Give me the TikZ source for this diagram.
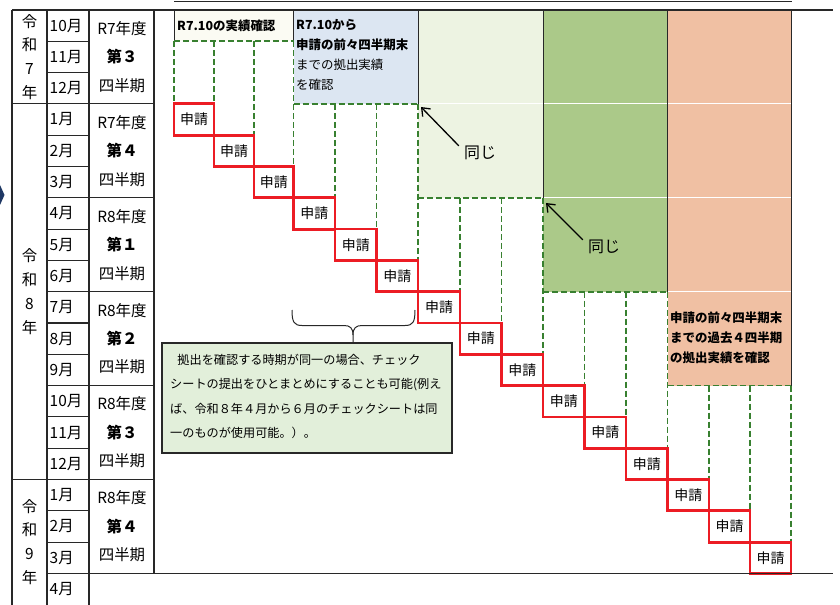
\documentclass[tikz,border=0pt]{standalone}
\usepackage{fontspec}
\newfontfamily\jp{Noto Sans CJK JP}
\usetikzlibrary{arrows.meta}
\definecolor{redbox}{RGB}{236,28,36}
\definecolor{dgreen}{RGB}{56,128,48}
\definecolor{lblue}{RGB}{220,230,242}
\definecolor{lgreen}{RGB}{237,243,226}
\definecolor{mgreen}{RGB}{171,201,137}
\definecolor{salmon}{RGB}{240,192,163}
\definecolor{cream}{RGB}{251,251,243}
\definecolor{callfill}{RGB}{226,239,218}
\definecolor{tline}{RGB}{40,40,40}
\definecolor{navy}{RGB}{31,56,100}
\begin{document}
\begin{tikzpicture}[x=1bp,y=-1bp,
  tl/.style={draw=tline,line width=1.1bp},
  gdash/.style={draw=dgreen,line width=1.6bp,dash pattern=on 6bp off 3bp},
  wline/.style={draw=white,line width=1bp},
  shin/.style={draw=redbox,line width=2.8bp,inner sep=0pt,font=\jp\fontsize{14}{16}\selectfont},
  mon/.style={anchor=west,inner sep=0pt,font=\jp\fontsize{15.5}{18}\selectfont},
  qtr/.style={inner sep=0pt,font=\jp\fontsize{15.5}{18}\selectfont},
  qtrb/.style={inner sep=0pt,font=\jp\bfseries\fontsize{15.5}{18}\selectfont},
  yr/.style={inner sep=0pt,align=center,font=\jp\fontsize{15.5}{24}\selectfont},
  hdr/.style={inner sep=0pt,align=left,anchor=north west,font=\jp\bfseries\fontsize{12.5}{20}\selectfont},
  dou/.style={inner sep=2bp,font=\jp\fontsize{16}{18}\selectfont},
  arr/.style={draw=black,line width=1.3bp,-{Straight Barb[length=7bp,width=11bp]}},
]
\useasboundingbox (0,0) rectangle (840,605);

% header fills
\fill[cream]  (174,10) rectangle (293.5,41.3);
\fill[lblue]  (293.5,10) rectangle (418,103.9);
\fill[lgreen] (418,10) rectangle (543,197.8);
\fill[mgreen] (543,10) rectangle (667.5,291.7);
\fill[salmon] (667.5,10) rectangle (791,385.6);

% light quarter lines across coloured areas
\draw[wline] (418,103.9) -- (543,103.9);
\draw[wline] (543,103.9) -- (667.5,103.9);
\draw[wline] (543,197.8) -- (667.5,197.8);
\draw[wline] (667.5,103.9) -- (791,103.9);
\draw[wline] (667.5,197.8) -- (791,197.8);
\draw[wline] (667.5,291.7) -- (791,291.7);

% solid header edges
\draw[tl,line width=0.9bp] (174,10) -- (174,41.3);
\draw[tl,line width=0.9bp] (293.5,10) -- (293.5,41.3);
\draw[tl,line width=0.9bp] (418,10) -- (418,103.9);
\draw[tl,line width=0.9bp] (543,10) -- (543,197.8);
\draw[tl,line width=0.9bp] (667.5,10) -- (667.5,291.7);
\draw[tl,line width=0.9bp] (791,10) -- (791,385.6);

% dashed header bottoms
\draw[gdash] (174,41.3) -- (293.5,41.3);
\draw[gdash] (293.5,103.9) -- (418,103.9);
\draw[gdash] (418,197.8) -- (543,197.8);
\draw[gdash] (543,291.7) -- (667.5,291.7);
\draw[gdash] (667.5,385.6) -- (791,385.6);

% dashed verticals
\foreach \x/\t/\b in {174/41.3/103.9, 214/41.3/103.9, 254/41.3/135.2, 293.5/41.3/166.5,
  335/103.9/197.8, 376.5/103.9/229.1, 418/103.9/260.4,
  460/197.8/291.7, 501.5/197.8/323, 543/197.8/354.3,
  584.5/291.7/385.6, 626/291.7/416.9, 667.5/291.7/448.2,
  709/385.6/479.5, 750/385.6/510.8, 791/385.6/542.1}
  \draw[gdash] (\x,\t) -- (\x,\b);

% application boxes
\def\xs{{174,214,254,293.5,335,376.5,418,460,501.5,543,584.5,626,667.5,709,750,791}}
\foreach \k in {0,...,14}{
  \pgfmathsetmacro\xa{\xs[\k]}
  \pgfmathsetmacro\xb{\xs[\k+1]}
  \pgfmathsetmacro\w{\xb-\xa}
  \pgfmathsetmacro\yc{10+31.3*(\k+3)+15.65}
  \pgfmathsetmacro\xc{(\xa+\xb)/2}
  \node[shin,minimum width=\w bp,minimum height=31.3bp] (s\k) at (\xc,\yc) {申請};
}

% table lines
\draw[tl] (12,10) -- (833,10);
\draw[tl,line width=1.8bp] (174,1.5) -- (792,1.5);
\draw[tl] (12,10) -- (12,605);
\draw[tl] (47,10) -- (47,605);
\draw[tl] (89,10) -- (89,605);
\draw[tl] (154,10) -- (154,573.4);
\foreach \r in {1,...,18} \draw[tl] (47,{10+31.3*\r}) -- (89,{10+31.3*\r});
\foreach \r in {3,6,9,12,15} \draw[tl] (89,{10+31.3*\r}) -- (154,{10+31.3*\r});
\draw[tl] (12,103.9) -- (47,103.9);
\draw[tl] (12,479.5) -- (47,479.5);
\draw[tl] (89,573.4) -- (833,573.4);

% year labels
\node[yr] (y7) at (29.5,57) {令\\和\\7\\年};
\node[yr] (y8) at (29.5,291.7) {令\\和\\8\\年};
\node[yr] (y9) at (29.5,542) {令\\和\\9\\年};

% month labels
\foreach \m [count=\r from 0] in {10,11,12,1,2,3,4,5,6,7,8,9,10,11,12,1,2,3,4}
  \node[mon] (m\r) at (49.5,{25.65+31.3*\r}) {\m 月};

% quarter labels
\foreach \q/\fy/\qn in {0/R7/３,1/R7/４,2/R8/１,3/R8/２,4/R8/３,5/R8/４}{
  \pgfmathsetmacro\qc{56.95+93.9*\q}
  \node[qtr] (qa\q) at (122,{\qc-28.5}) {\fy 年度};
  \node[qtrb] (qb\q) at (122,\qc) {第\qn};
  \node[qtr] (qc\q) at (122,{\qc+28.5}) {四半期};
}

% header texts
\node[hdr,anchor=west] (h0) at (177,26) {R7.10の実績確認};
\node[hdr] (h1) at (296,19.2) {R7.10から\\申請の前々四半期末\\{\mdseries までの拠出実績}\\{\mdseries を確認}};
\node[hdr] (h4) at (670,312) {申請の前々四半期末\\までの過去４四半期\\の拠出実績を確認};

% same-as labels
\node[dou] (d1) at (480,153) {同じ};
\coordinate (d1t) at (421,107);
\draw[arr] ([shift={(-3,2)}]d1.north west) -- (d1t);
\node[dou] (d2) at (604,247) {同じ};
\coordinate (d2t) at (546,203);
\draw[arr] ([shift={(-3,2)}]d2.north west) -- (d2t);

% callout
\node[draw=tline,line width=1.2bp,fill=callfill,minimum width=290bp,minimum height=110bp,inner sep=0pt] (call) at (307,398) {};
\node[anchor=north west,inner sep=0pt,align=left,font=\jp\fontsize{12.2}{24.5}\selectfont] (calltxt) at (170,354)
 {\hspace*{0.6em}拠出を確認する時期が同一の場合、チェック\\シートの提出をひとまとめにすることも可能(例え\\ば、令和８年４月から６月のチェックシートは同\\一のものが使用可能。）。};

% brace
\coordinate (btip) at (353,343);
\draw[draw=tline,line width=1bp] (292,310) .. controls (292,322) and (294,325.5) .. (302,325.5) -- (344,325.5) .. controls (350,325.5) and (353,328) .. (353,335) -- (btip);
\draw[draw=tline,line width=1bp] (415,310) .. controls (415,322) and (413,325.5) .. (405,325.5) -- (362,325.5) .. controls (356,325.5) and (353,328) .. (353,335);

% partial chevron at the left edge
\fill[navy] (0,185) -- (4.5,195) -- (0,205) -- cycle;
\end{tikzpicture}
\end{document}
